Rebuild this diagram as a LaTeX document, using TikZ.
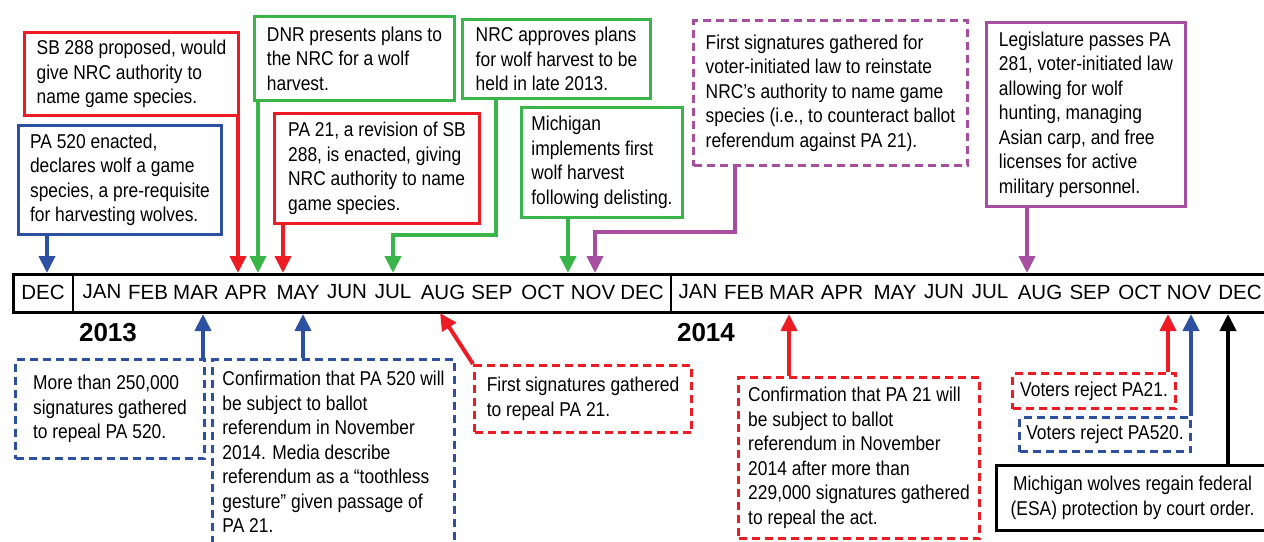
\documentclass[tikz,border=0pt]{standalone}
\usepackage{fontspec}
\setmainfont[FakeStretch=0.87]{Liberation Sans}
\newfontfamily\monthfont{Liberation Sans}
\usetikzlibrary{arrows.meta}

\definecolor{evred}{RGB}{237,28,36}
\definecolor{evgreen}{RGB}{57,181,74}
\definecolor{evblue}{RGB}{46,80,160}
\definecolor{evpurple}{RGB}{168,78,160}

\begin{document}
\begin{tikzpicture}[x=1pt, y=-1pt,
		ev/.style={draw, line width=3pt, fill=white, align=left, anchor=north west, inner sep=0pt, font=\fontsize{20}{24.5}\selectfont},
		evdash/.style={ev, dash pattern=on 8pt off 5pt},
		arr/.style={line width=4pt, line join=miter, -{Triangle[width=16pt,length=17pt]}},
		month/.style={font=\monthfont\fontsize{20.5}{24}\selectfont, inner sep=0pt},
		year/.style={font=\monthfont\bfseries\fontsize{26}{30}\selectfont, inner sep=0pt}]
			\useasboundingbox (0,0) rectangle (1264,541);

			% Zeitleiste
			\node[draw, line width=3pt, minimum width=1256pt, minimum height=38pt, anchor=north west, inner sep=0pt] (bar) at (12,273) {};
			\draw[line width=2.5pt] ([xshift=61pt]bar.north west) -- ([xshift=61pt]bar.south west);
			\draw[line width=2.5pt] ([xshift=659pt]bar.north west) -- ([xshift=659pt]bar.south west);
			\foreach \m/\x in {DEC/43, JAN/102, FEB/148, MAR/196, APR/246, MAY/298, JUN/347, JUL/393, AUG/443, SEP/492, OCT/543, NOV/593, DEC/642,
				JAN/698, FEB/744, MAR/792, APR/842, MAY/895, JUN/944, JUL/990, AUG/1040, SEP/1090, OCT/1140, NOV/1189, DEC/1240}
				\node[month] (m\x) at (\x,292) {\m};

			% Jahre
			\node[year] (y2013) at (108,333) {2013};
			\node[year] (y2014) at (706,333) {2014};

			% Ereignisse oben
			\node[ev, draw=evred, minimum width=214pt, minimum height=83pt] (sb288) at (23,31)
				{SB 288 proposed, would\\give NRC authority to\\name game species.};
			\node[ev, draw=evblue, minimum width=203pt, minimum height=109pt] (pa520) at (17,124)
				{PA 520 enacted,\\declares wolf a game\\species, a pre-requisite\\for harvesting wolves.};
			\node[ev, draw=evgreen, minimum width=200pt, minimum height=84pt] (dnr) at (253,15)
				{DNR presents plans to\\the NRC for a wolf\\harvest.};
			\node[ev, draw=evred, minimum width=205pt, minimum height=110pt] (pa21) at (273,112)
				{PA 21, a revision of SB\\288, is enacted, giving\\NRC authority to name\\game species.};
			\node[ev, draw=evgreen, minimum width=188pt, minimum height=79pt] (nrcplan) at (461,18)
				{NRC approves plans\\for wolf harvest to be\\held in late 2013.};
			\node[ev, draw=evgreen, minimum width=161pt, minimum height=110pt] (harvest) at (520,106)
				{Michigan\\implements first\\wolf harvest\\following delisting.};
			\node[evdash, draw=evpurple, minimum width=274pt, minimum height=145pt] (sigreinst) at (692,19)
				{First signatures gathered for\\voter-initiated law to reinstate\\NRC's authority to name game\\species (i.e., to counteract ballot\\referendum against PA 21).};
			\node[ev, draw=evpurple, minimum width=199pt, minimum height=184pt] (pa281) at (985,21)
				{Legislature passes PA\\281, voter-initiated law\\allowing for wolf\\hunting, managing\\Asian carp, and free\\licenses for active\\military personnel.};

			% Ereignisse unten
			\node[evdash, draw=evblue, minimum width=189pt, minimum height=99pt] (sig250) at (14,358)
				{More than 250,000\\signatures gathered\\to repeal PA 520.};
			\node[evdash, draw=evblue, minimum width=242pt, minimum height=185pt] (conf520) at (211,358)
				{Confirmation that PA 520 will\\be subject to ballot\\referendum in November\\2014. Media describe\\referendum as a ``toothless\\gesture'' given passage of\\PA 21.};
			\node[evdash, draw=evred, minimum width=217pt, minimum height=67pt] (sig21) at (473,364)
				{First signatures gathered\\to repeal PA 21.};
			\node[evdash, draw=evred, minimum width=241pt, minimum height=161pt] (conf21) at (737,376)
				{Confirmation that PA 21 will\\be subject to ballot\\referendum in November\\2014 after more than\\229,000 signatures gathered\\to repeal the act.};
			\node[evdash, draw=evred, minimum width=163pt, minimum height=35pt] (rej21) at (1011,372)
				{Voters reject PA21.};
			\node[evdash, draw=evblue, minimum width=171pt, minimum height=34pt] (rej520) at (1018,416)
				{Voters reject PA520.};
			\node[ev, align=center, minimum width=272pt, minimum height=65pt] (esa) at (995,464)
				{Michigan wolves regain federal\\(ESA) protection by court order.};

			% Pfeile zur Zeitleiste
			\draw[arr, evblue] ([xshift=30pt]pa520.south west) coordinate (c1) -- (c1 |- bar.north);
			\draw[arr, evred] ([xshift=-2pt]sb288.south east) coordinate (c2) -- (c2 |- bar.north);
			\draw[arr, evgreen] ([xshift=5pt]dnr.south west) coordinate (c3) -- (c3 |- bar.north);
			\draw[arr, evred] ([xshift=10pt]pa21.south west) coordinate (c4) -- (c4 |- bar.north);
			\draw[arr, evgreen] ([xshift=35pt]nrcplan.south west) -- ++(0,135) -- ++(-103,0) coordinate (c5) -- (c5 |- bar.north);
			\draw[arr, evgreen] ([xshift=48pt]harvest.south west) coordinate (c6) -- (c6 |- bar.north);
			\draw[arr, evpurple] ([xshift=43pt]sigreinst.south west) -- ++(0,65) -- ++(-140,0) coordinate (c7) -- (c7 |- bar.north);
			\draw[arr, evpurple] ([xshift=42pt]pa281.south west) coordinate (c8) -- (c8 |- bar.north);

			\draw[arr, evblue] ([xshift=-3pt]sig250.north east) coordinate (c9) -- (c9 |- bar.south);
			\draw[arr, evblue] ([xshift=92pt]conf520.north west) coordinate (c10) -- (c10 |- bar.south);
			\draw[arr, evred] (sig21.north west) -- ++(-33,-51);
			\draw[arr, evred] ([xshift=52pt]conf21.north west) coordinate (c11) -- (c11 |- bar.south);
			\draw[arr, evred] ([xshift=-9pt]rej21.north east) coordinate (c12) -- (c12 |- bar.south);
			\draw[arr, evblue] ([xshift=-1pt]rej520.north east) coordinate (c13) -- (c13 |- bar.south);
			\draw[arr] ([xshift=233pt]esa.north west) coordinate (c14) -- (c14 |- bar.south);

		\end{tikzpicture}
\end{document}
